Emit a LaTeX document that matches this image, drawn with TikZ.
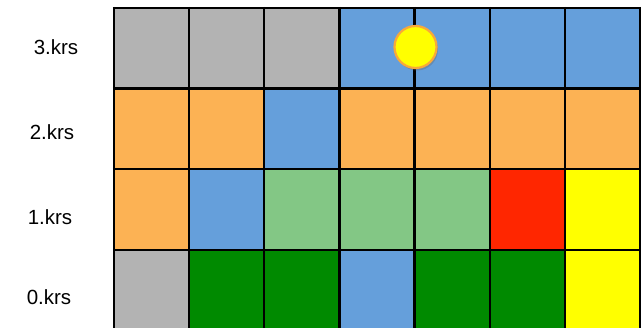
\documentclass[tikz,border=0pt]{standalone}
\usepackage{fontspec}
\setmainfont{Liberation Sans}
\usetikzlibrary{shadows}
\definecolor{cgrey}{HTML}{B3B3B3}
\definecolor{corange}{HTML}{FCB254}
\definecolor{cblue}{HTML}{659FDB}
\definecolor{clgreen}{HTML}{83C785}
\definecolor{cgreen}{HTML}{008A00}
\definecolor{cred}{HTML}{FF2600}
\definecolor{cyellow}{HTML}{FFFF00}
\definecolor{cborder}{HTML}{F8A93A}
\tikzset{
  gridline/.style={draw=black, line width=2.4pt},
  lbl/.style={font=\fontsize{20.5}{24}\selectfont, anchor=center, inner sep=0pt},
  sun/.style={circle, fill=cyellow, draw=cborder, line width=2.2pt, minimum size=42pt, inner sep=0pt,
    drop shadow={shadow xshift=1.5pt, shadow yshift=-2.5pt, fill=black!60, opacity=0.35}}
}
\begin{document}
\begin{tikzpicture}[x=1pt,y=-1pt]
\useasboundingbox (0,0) rectangle (641,328);
\clip (0,0) rectangle (641,328);
\fill[white] (0,0) rectangle (641,328);
\def\cw{75.14}
\def\ch{80.6}
\def\gx{114}
\def\gy{8}
% rows from top: row index r = 0 (3.krs) .. 3 (0.krs)
\foreach \r/\cols in {0/{cgrey,cgrey,cgrey,cblue,cblue,cblue,cblue},
                      1/{corange,corange,cblue,corange,corange,corange,corange},
                      2/{corange,cblue,clgreen,clgreen,clgreen,cred,cyellow},
                      3/{cgrey,cgreen,cgreen,cblue,cgreen,cgreen,cyellow}} {
  \foreach \c [count=\i from 0] in \cols {
    \fill[\c] (\gx+\i*\cw, \gy+\r*\ch) rectangle (\gx+\i*\cw+\cw, \gy+\r*\ch+\ch);
  }
}
\foreach \i in {0,...,7} {
  \draw[gridline] (\gx+\i*\cw, \gy-1.2) -- (\gx+\i*\cw, \gy+4*\ch);
}
\foreach \r in {0,...,4} {
  \draw[gridline] (\gx-1.2, \gy+\r*\ch) -- (\gx+7*\cw+1.2, \gy+\r*\ch);
}
\node[lbl] (l3) at (56,47) {3.krs};
\node[lbl] (l2) at (52,132) {2.krs};
\node[lbl] (l1) at (50,217) {1.krs};
\node[lbl] (l0) at (49,297) {0.krs};
\node[sun] (s) at (415.5,47) {};
\end{tikzpicture}
\end{document}
